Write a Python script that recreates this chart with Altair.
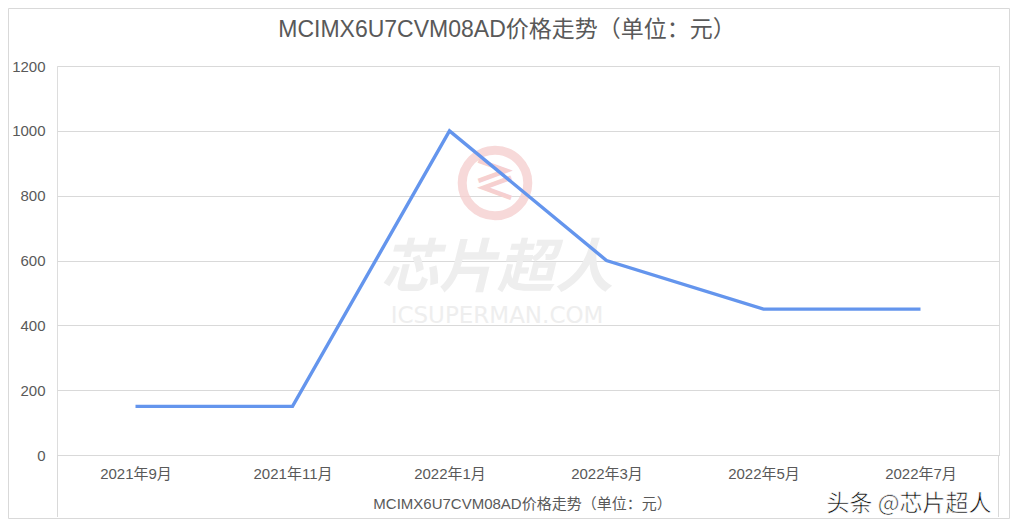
import altair as alt
import pandas as pd

months = ["2021年9月", "2021年11月", "2022年1月", "2022年3月", "2022年5月", "2022年7月"]
prices = [150, 150, 1000, 600, 450, 450]
y_ticks = [0, 200, 400, 600, 800, 1000, 1200]
title_text = "MCIMX6U7CVM08AD价格走势（单位：元）"
axis_title = "MCIMX6U7CVM08AD价格走势（单位：元）"
wm_big = ["芯片超人"]
wm_small = ["ICSUPERMAN.COM"]
wm_corner = ["头条 @芯片超人"]

FONT = "Liberation Sans, Noto Sans CJK SC, sans-serif"
GREY = "#595959"

df = pd.DataFrame({"month": months, "price": prices})

W, H = 942, 389

border = alt.Chart(pd.DataFrame({"a": [0]})).mark_rect(
    fillOpacity=0, stroke="#d9d9d9", strokeWidth=1
).encode(
    x=alt.value(-48.5), x2=alt.value(952.5), y=alt.value(-57.5), y2=alt.value(452.5)
)

logo = alt.Chart(pd.DataFrame({"a": [0]})).mark_point(
    shape="circle", filled=False, stroke="#f6d0d0", strokeWidth=9, size=4300, opacity=0.8
).encode(x=alt.value(438), y=alt.value(117))

logo_z = alt.Chart(pd.DataFrame({"t": ["≷"]})).mark_text(
    font=FONT, fontSize=44, color="#f6d0d0", fontWeight="bold", align="center", baseline="middle"
).encode(x=alt.value(438), y=alt.value(117), text="t:N")

wm1 = alt.Chart(pd.DataFrame({"t": wm_big})).mark_text(
    font="Noto Sans CJK SC", fontSize=58, fontWeight="bold", fontStyle="italic",
    color="#eeeeee", align="center", baseline="middle"
).encode(x=alt.value(440), y=alt.value(204), text="t:N")

wm2 = alt.Chart(pd.DataFrame({"t": wm_small})).mark_text(
    font="DejaVu Sans", fontSize=23, color="#eeeeee", align="center", baseline="middle"
).encode(x=alt.value(440), y=alt.value(250), text="t:N")

base = alt.Chart(df)

line = base.mark_line(color="#6495ED", strokeWidth=3.4).encode(
    x=alt.X(
        "month:N",
        sort=months,
        scale=alt.Scale(padding=0.5),
        axis=alt.Axis(
            title=axis_title,
            titleFont=FONT, titleFontSize=15, titleFontWeight="normal", titleColor=GREY,
            titleX=465, titleY=48, titleBaseline="middle", titleAlign="center",
            labelFont=FONT, labelFontSize=15, labelColor=GREY, labelAngle=0, labelPadding=11,
            ticks=False, domain=True, domainColor="#d9d9d9", grid=False,
        ),
    ),
    y=alt.Y(
        "price:Q",
        scale=alt.Scale(domain=[0, 1200], nice=False),
        axis=alt.Axis(
            title=None, values=y_ticks, format="d",
            labelFont=FONT, labelFontSize=15, labelColor=GREY, labelPadding=12,
            ticks=False, domain=False, grid=True, gridColor="#d9d9d9", gridWidth=1,
        ),
    ),
)

side_rules = alt.Chart(pd.DataFrame({"xp": [0.5, 941.5]})).mark_rule(
    color="#d9d9d9", strokeWidth=1
).encode(
    x=alt.X("xp:Q", scale=None), y=alt.value(389), y2=alt.value(451)
)

title = alt.Chart(pd.DataFrame({"t": [title_text]})).mark_text(
    font=FONT, fontSize=23, color=GREY, align="center", baseline="middle"
).encode(x=alt.value(450), y=alt.value(-36), text="t:N")

corner = alt.Chart(pd.DataFrame({"t": wm_corner})).mark_text(
    font="Noto Sans CJK SC", fontSize=23, color="#111111", stroke="white", strokeWidth=0.6,
    align="center", baseline="middle"
).encode(x=alt.value(852), y=alt.value(438), text="t:N")

chart = alt.layer(border, logo, logo_z, wm1, wm2, line, side_rules, title, corner).properties(
    width=W, height=H,
    autosize=alt.AutoSizeParams(type="none"),
    padding={"left": 49, "top": 58, "right": 11, "bottom": 64},
).configure_view(strokeWidth=0, stroke="transparent").configure(background="white")

chart.save("out.html", embed_options={"renderer": "svg", "actions": False})
